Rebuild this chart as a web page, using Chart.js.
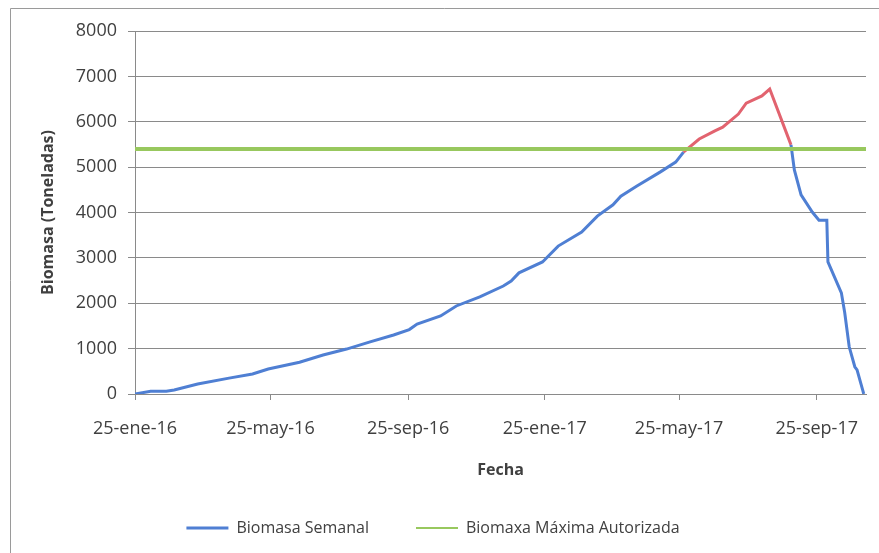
<!DOCTYPE html>
<html>
<head>
<meta charset="utf-8">
<script src="https://cdn.jsdelivr.net/npm/chart.js@4/dist/chart.umd.min.js"></script>
<style>
  html, body { margin: 0; padding: 0; background: #fff; }
  #wrap { width: 879px; height: 553px; position: relative; }
</style>
</head>
<body>
<div id="wrap"><canvas id="biomasaChart" width="879" height="553"></canvas></div>
<script>
// dias desde el 25-ene-16
const dias = [0, 14, 28, 35, 56, 84, 105, 119, 147, 168, 189, 210, 231, 245, 252, 273, 287, 308, 329, 336,
    343, 364, 378, 399, 413, 427, 434, 448, 469, 483, 490, 504, 518, 525, 539, 546, 560, 567, 586, 589,
    595, 605, 611, 618, 619, 631, 634, 638, 643, 645, 650, 651];
const biomasaSemanal = [0, 60, 60, 90, 220, 350, 440, 550, 700, 860, 990, 1150, 1300, 1420, 1540, 1720, 1940, 2140, 2380, 2490,
    2670, 2910, 3260, 3570, 3920, 4170, 4360, 4580, 4890, 5110, 5330, 5620, 5800, 5880, 6170, 6410, 6570, 6720, 5490, 4940,
    4390, 4010, 3830, 3830, 2910, 2230, 1790, 1040, 600, 530, 90, 0];

const limiteDias = [0, 653];
const limiteValores = [5400, 5400];
const limite = 5400;

const tickDias = [0, 121, 244, 366, 486, 609];
const tickEtiquetas = ['25-ene-16', '25-may-16', '25-sep-16', '25-ene-17', '25-may-17', '25-sep-17'];

const azul = '#4f7fd3';
const verde = '#98c85e';
const rojo = '#e2636f';
const gris = '#8a8a8a';
const texto = '#404040';

// marco exterior del grafico
const marco = {
    id: 'marco',
    beforeDraw(chart) {
        const ctx = chart.ctx;
        ctx.save();
        ctx.strokeStyle = '#9a9a9a';
        ctx.lineWidth = 1;
        ctx.beginPath();
        ctx.moveTo(10.5, 553);
        ctx.lineTo(10.5, 8.5);
        ctx.lineTo(879, 8.5);
        ctx.stroke();
        ctx.restore();
    }
};

const ctx = document.getElementById('biomasaChart').getContext('2d');
const biomasaChart = new Chart(ctx, {
    type: 'line',
    data: {
        datasets: [{
            label: 'Biomaxa Máxima Autorizada',
            data: limiteDias.map((d, i) => ({ x: d, y: limiteValores[i] })),
            borderColor: verde,
            backgroundColor: verde,
            borderWidth: 4,
            pointRadius: 0
        }, {
            label: 'Biomasa Semanal',
            data: dias.map((d, i) => ({ x: d, y: biomasaSemanal[i] })),
            borderColor: azul,
            backgroundColor: azul,
            borderWidth: 3,
            pointRadius: 0,
            segment: {
                borderColor: c => c.p1.parsed.y > limite ? rojo : undefined
            }
        }]
    },
    options: {
        responsive: false,
        animation: false,
        layout: { padding: { left: 0, top: 31, right: 13, bottom: 7 } },
        plugins: {
            tooltip: { enabled: false },
            legend: {
                position: 'bottom',
                labels: {
                    usePointStyle: true,
                    pointStyle: 'line',
                    pointStyleWidth: 42,
                    padding: 47,
                    color: texto,
                    font: { family: 'Open Sans', size: 16 },
                    sort: (a, b) => b.datasetIndex - a.datasetIndex,
                    generateLabels: chart => {
                        const items = Chart.defaults.plugins.legend.labels.generateLabels(chart);
                        items.forEach(it => { it.lineWidth = it.datasetIndex === 0 ? 2 : 3; });
                        return items;
                    }
                }
            }
        },
        scales: {
            x: {
                type: 'linear',
                min: 0,
                max: 653,
                afterBuildTicks: scale => { scale.ticks = tickDias.map(v => ({ value: v })); },
                afterFit: scale => { scale.height = 79; },
                ticks: {
                    autoSkip: false,
                    maxRotation: 0,
                    padding: 18,
                    color: texto,
                    font: { family: 'Open Sans', size: 18 },
                    callback: (value, index) => tickEtiquetas[index]
                },
                grid: { drawOnChartArea: false, tickLength: 6, color: gris },
                border: { color: gris },
                title: {
                    display: true,
                    text: 'Fecha',
                    color: texto,
                    font: { family: 'Open Sans', size: 16, weight: 'bold' },
                    padding: { top: 0, bottom: -7 }
                }
            },
            y: {
                min: 0,
                max: 8000,
                afterFit: scale => { scale.width = 135; },
                ticks: {
                    stepSize: 1000,
                    padding: 11,
                    color: texto,
                    font: { family: 'Open Sans', size: 18 },
                    callback: value => String(value)
                },
                grid: { color: gris, tickLength: 7 },
                border: { color: gris },
                title: {
                    display: true,
                    text: 'Biomasa (Toneladas)',
                    color: texto,
                    font: { family: 'Open Sans', size: 16, weight: 'bold' },
                    padding: { top: 39, bottom: 0 }
                }
            }
        }
    },
    plugins: [marco]
});
</script>
</body>
</html>
